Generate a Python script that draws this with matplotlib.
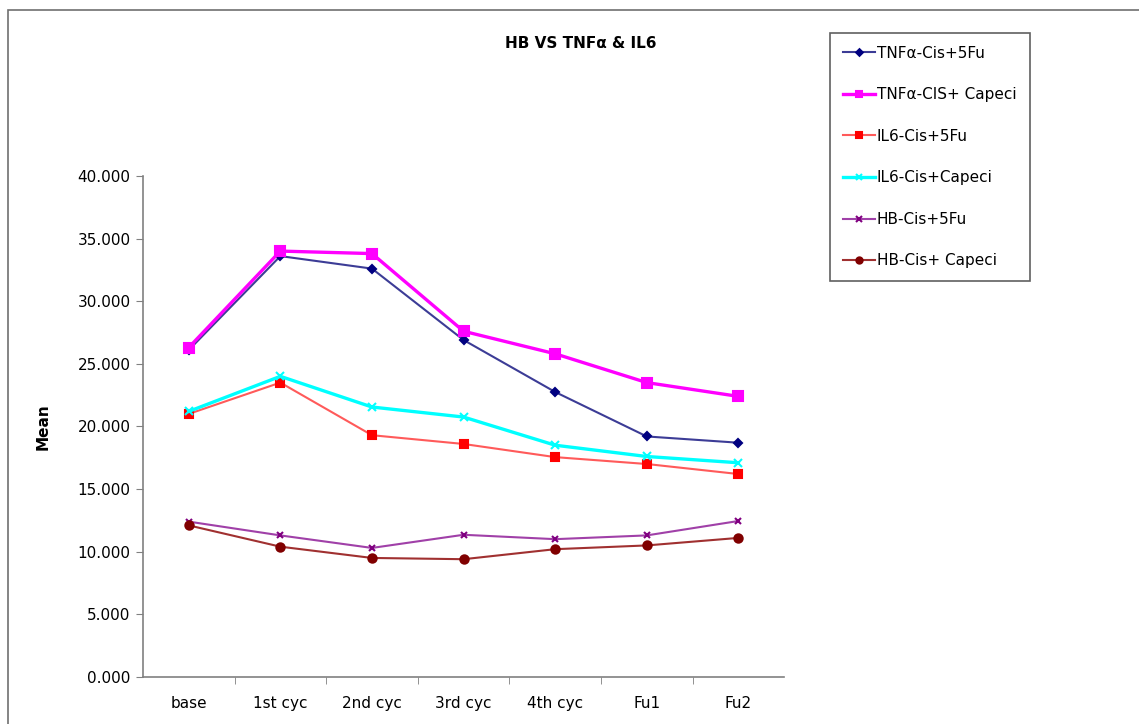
#!/usr/bin/env python3
# -*- coding: utf-8 -*-

import matplotlib
matplotlib.use("Agg")
import matplotlib.pyplot as plt
from matplotlib.patches import Rectangle
from matplotlib.ticker import FormatStrFormatter, FixedLocator

plt.rcParams['font.family'] = ['DejaVu Sans']

visits = ["base", "1st cyc", "2nd cyc", "3rd cyc", "4th cyc", "Fu1", "Fu2"]

tnf_cis_5fu = [26.1, 33.6, 32.6, 26.9, 22.75, 19.2, 18.7]
tnf_cis_capeci = [26.3, 34.0, 33.8, 27.6, 25.8, 23.5, 22.4]
il6_cis_5fu = [21.0, 23.5, 19.3, 18.6, 17.55, 17.0, 16.2]
il6_cis_capeci = [21.2, 24.0, 21.55, 20.75, 18.5, 17.6, 17.1]
hb_cis_5fu = [12.4, 11.3, 10.3, 11.35, 11.0, 11.3, 12.45]
hb_cis_capeci = [12.1, 10.4, 9.5, 9.4, 10.2, 10.5, 11.1]

# label, values, line colour, marker colour, marker, marker size, line width
series = [
    ("TNF\u03b1-Cis+5Fu", tnf_cis_5fu, "#3c3c96", "#000080", "D", 4.5, 1.5),
    ("TNF\u03b1-CIS+ Capeci", tnf_cis_capeci, "#ff00ff", "#ff00ff", "s", 6.5, 2.4),
    ("IL6-Cis+5Fu", il6_cis_5fu, "#ff5a5a", "#ff0000", "s", 6, 1.5),
    ("IL6-Cis+Capeci", il6_cis_capeci, "#00ffff", "#00ffff", "x", 6, 2.4),
    ("HB-Cis+5Fu", hb_cis_5fu, "#a040a8", "#800080", "x", 5, 1.5),
    ("HB-Cis+ Capeci", hb_cis_capeci, "#a03030", "#800000", "o", 6, 1.5),
]

fig = plt.figure(figsize=(11.39, 7.24), dpi=100)
ax = fig.add_axes([0.1255, 0.065, 0.563, 0.692])

x = list(range(len(visits)))
for label, vals, lc, mc, mk, ms, lw in series:
    ax.plot(x, vals, color=lc, lw=lw, marker=mk, markersize=ms,
            markerfacecolor=mc, markeredgecolor=mc, markeredgewidth=1.5,
            label=label)

ax.set_xlim(-0.5, len(visits) - 0.5)
ax.set_ylim(0, 40)
ax.set_yticks([0, 5, 10, 15, 20, 25, 30, 35, 40])
ax.yaxis.set_major_formatter(FormatStrFormatter('%.3f'))
ax.set_xticks(x)
ax.set_xticklabels(visits)
ax.xaxis.set_minor_locator(FixedLocator([i + 0.5 for i in range(len(visits) - 1)]))
ax.tick_params(axis='x', which='major', length=0, pad=14, labelsize=11)
ax.tick_params(axis='x', which='minor', length=5, color='#808080')
ax.tick_params(axis='y', length=5, color='#808080', labelsize=11, pad=4)

for side in ['top', 'right']:
    ax.spines[side].set_visible(False)
for side in ['left', 'bottom']:
    ax.spines[side].set_color('#808080')
    ax.spines[side].set_linewidth(1.2)

ax.set_ylabel("Mean", fontsize=11, fontweight='bold', labelpad=19)
fig.text(0.51, 0.94, "HB VS TNF\u03b1 & IL6", ha='center', va='center',
         fontsize=11, fontweight='bold')

leg = fig.legend(loc='upper left', bbox_to_anchor=(0.729, 0.955),
                 fontsize=11, labelspacing=1.74, handlelength=2.1,
                 handletextpad=0.1, borderpad=0.85, borderaxespad=0,
                 markerscale=0.75, fancybox=False, framealpha=1)
leg.get_frame().set_edgecolor('#606060')
leg.get_frame().set_linewidth(1.2)

# outer chart border
fig.patches.append(Rectangle((0.007, -0.01), 1.0, 0.996, transform=fig.transFigure,
                             fill=False, edgecolor='#707070', linewidth=1.2))

fig.savefig("out.png", dpi=100)
